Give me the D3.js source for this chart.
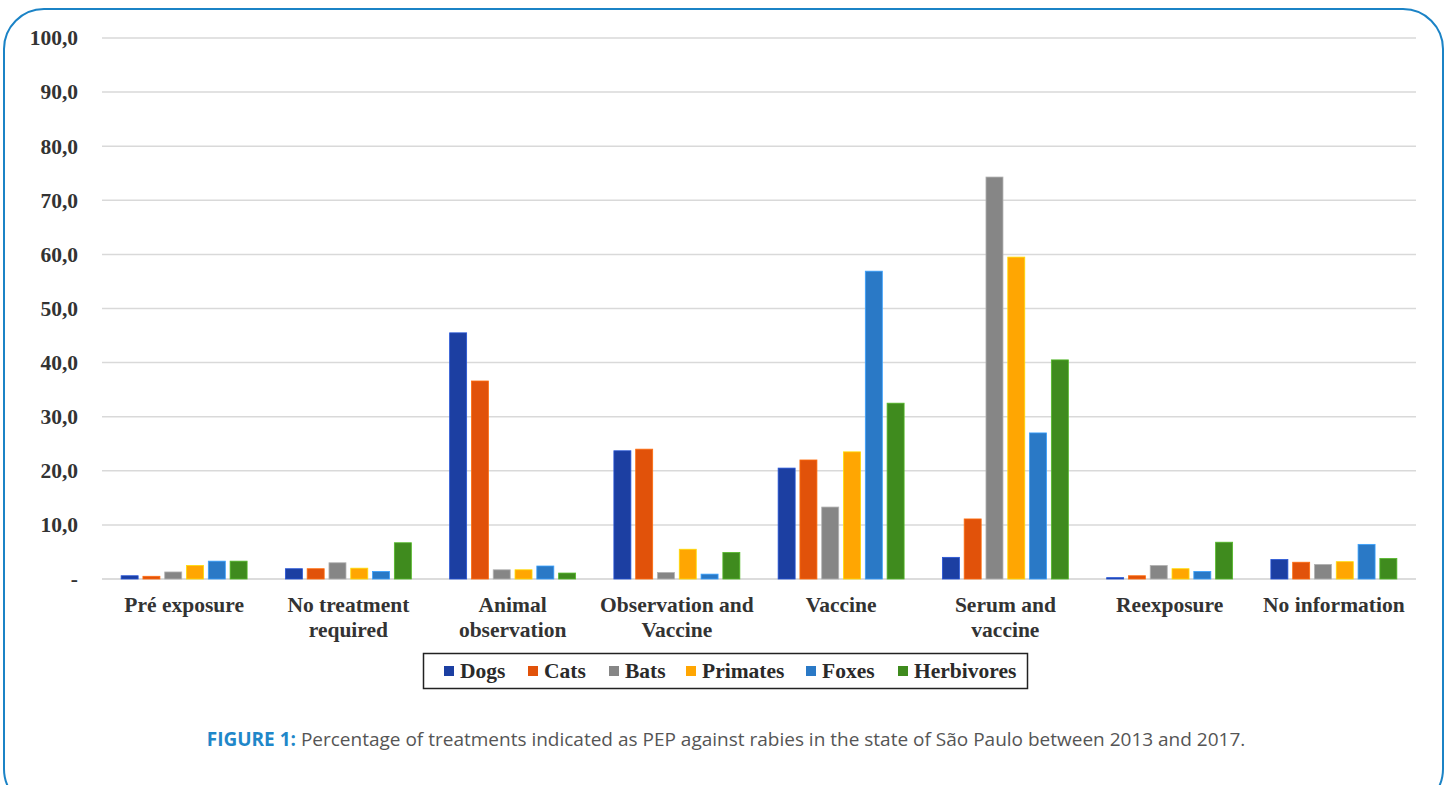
<!DOCTYPE html>
<html>
<head>
<meta charset="utf-8">
<script src="https://cdn.jsdelivr.net/npm/d3@7"></script>
<style>
  html, body { margin: 0; padding: 0; background: #fff; }
  svg { display: block; }
</style>
</head>
<body>
<svg id="chart" width="1446" height="785"></svg>
<script>
// Treatment categories (two-line labels)
const categories = [
  ["Pré exposure"],
  ["No treatment", "required"],
  ["Animal", "observation"],
  ["Observation and", "Vaccine"],
  ["Vaccine"],
  ["Serum and", "vaccine"],
  ["Reexposure"],
  ["No information"]
];

const seriesNames = ["Dogs", "Cats", "Bats", "Primates", "Foxes", "Herbivores"];
const seriesColors = ["#1c3fa2", "#e1520a", "#868686", "#ffa602", "#2a79c6", "#3f8b1e"];

// Percentages per category, one array per animal
const dogs       = [0.6, 1.9, 45.5, 23.7, 20.5,  4.0, 0.25, 3.6];
const cats       = [0.5, 1.9, 36.6, 24.0, 22.0, 11.1, 0.6,  3.1];
const bats       = [1.3, 3.0,  1.7,  1.2, 13.3, 74.3, 2.5,  2.7];
const primates   = [2.5, 2.0,  1.7,  5.5, 23.5, 59.5, 1.9,  3.2];
const foxes      = [3.3, 1.4,  2.4,  0.9, 56.9, 27.0, 1.4,  6.4];
const herbivores = [3.3, 6.7,  1.1,  4.9, 32.5, 40.5, 6.8,  3.8];

const yTicks = [0, 10, 20, 30, 40, 50, 60, 70, 80, 90, 100];
const yTickLabels = ["-", "10,0", "20,0", "30,0", "40,0", "50,0", "60,0", "70,0", "80,0", "90,0", "100,0"];

const seriesValues = [dogs, cats, bats, primates, foxes, herbivores];

const svg = d3.select("#chart");

// Rounded frame
svg.append("rect")
  .attr("x", 4).attr("y", 9)
  .attr("width", 1439).attr("height", 800)
  .attr("rx", 40).attr("ry", 40)
  .attr("fill", "none")
  .attr("stroke", "#1b83c6")
  .attr("stroke-width", 2);

const plot = { left: 102, right: 1416, top: 38, bottom: 579 };

const y = d3.scaleLinear().domain([0, 100]).range([plot.bottom, plot.top]);
const x0 = d3.scaleBand()
  .domain(d3.range(categories.length))
  .range([plot.left, plot.right])
  .paddingInner(0.233)
  .paddingOuter(0.1165);
const x1 = d3.scaleBand()
  .domain(d3.range(seriesNames.length))
  .range([0, x0.bandwidth()])
  .paddingInner(0.22)
  .paddingOuter(0);

const serif = "'Liberation Serif', 'Times New Roman', serif";
const serifSize = 21.5;

// Gridlines
svg.append("g")
  .selectAll("line")
  .data(yTicks)
  .join("line")
  .attr("x1", plot.left).attr("x2", plot.right)
  .attr("y1", d => y(d)).attr("y2", d => y(d))
  .attr("stroke", d => d === 0 ? "#d0d0d0" : "#d9d9d9")
  .attr("stroke-width", 1.5);

// Y axis labels
const yAxis = d3.axisLeft(y)
  .tickValues(yTicks)
  .tickFormat((d, i) => yTickLabels[i])
  .tickSize(0)
  .tickPadding(24);
const yg = svg.append("g")
  .attr("transform", `translate(${plot.left},0)`)
  .call(yAxis);
yg.select(".domain").remove();
yg.selectAll("text")
  .attr("font-family", serif)
  .attr("font-weight", "bold")
  .attr("font-size", serifSize)
  .attr("fill", "#333");

// Bars
const groups = svg.append("g")
  .selectAll("g")
  .data(categories.map((c, i) => i))
  .join("g")
  .attr("transform", i => `translate(${x0(i)},0)`);

groups.selectAll("rect")
  .data(i => seriesValues.map((vals, s) => ({ s, v: vals[i] })))
  .join("rect")
  .attr("x", d => x1(d.s))
  .attr("width", x1.bandwidth())
  .attr("y", d => y(d.v))
  .attr("height", d => y(0) - y(d.v))
  .attr("fill", d => seriesColors[d.s])
  .attr("stroke", d => d3.color(seriesColors[d.s]).brighter(0.8))
  .attr("stroke-width", 0.8);

// Category labels
const xl = svg.append("g")
  .selectAll("text")
  .data(categories)
  .join("text")
  .attr("x", (c, i) => x0(i) + x0.bandwidth() / 2)
  .attr("y", 612)
  .attr("text-anchor", "middle")
  .attr("font-family", serif)
  .attr("font-weight", "bold")
  .attr("font-size", serifSize)
  .attr("fill", "#333");
xl.selectAll("tspan")
  .data(c => c)
  .join("tspan")
  .attr("x", function () { return d3.select(this.parentNode).attr("x"); })
  .attr("dy", (d, i) => i === 0 ? 0 : 25)
  .text(d => d);

// Legend
const legend = svg.append("g");
legend.append("rect")
  .attr("x", 423.5).attr("y", 653.5)
  .attr("width", 604).attr("height", 35)
  .attr("fill", "#fff")
  .attr("stroke", "#222")
  .attr("stroke-width", 1.5);

const legendX = [444, 528, 609, 686, 806, 898];
const li = legend.selectAll("g")
  .data(seriesNames)
  .join("g")
  .attr("transform", (d, i) => `translate(${legendX[i]},671)`);
li.append("rect")
  .attr("x", 0).attr("y", -5)
  .attr("width", 10).attr("height", 10)
  .attr("fill", (d, i) => seriesColors[i]);
li.append("text")
  .attr("x", 16).attr("y", 7)
  .attr("font-family", serif)
  .attr("font-weight", "bold")
  .attr("font-size", serifSize)
  .attr("fill", "#2a2a2a")
  .text(d => d);

// Caption
const cap = svg.append("text")
  .attr("x", 726).attr("y", 746)
  .attr("text-anchor", "middle")
  .attr("font-family", "'Open Sans', 'Noto Sans', sans-serif")
  .attr("font-size", 19);
cap.append("tspan")
  .attr("font-weight", "bold")
  .attr("fill", "#1f87c9")
  .text("FIGURE 1:");
cap.append("tspan")
  .attr("fill", "#555")
  .text(" Percentage of treatments indicated as PEP against rabies in the state of São Paulo between 2013 and 2017.");
</script>
</body>
</html>
